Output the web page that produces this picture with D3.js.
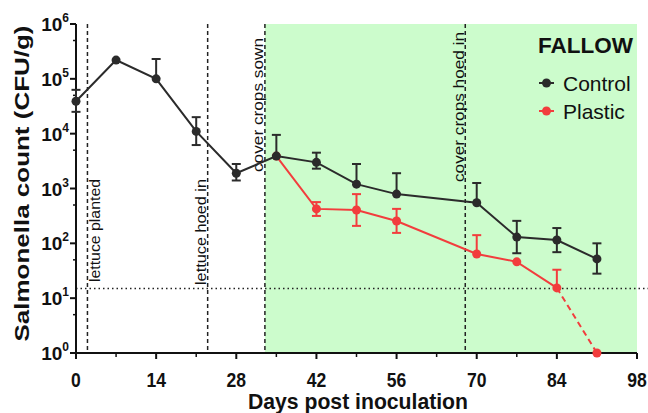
<!DOCTYPE html>
<html>
<head>
<meta charset="utf-8">
<script src="https://cdn.jsdelivr.net/npm/d3@7"></script>
<style>
  html, body { margin: 0; padding: 0; background: #fff; }
  svg { display: block; }
</style>
</head>
<body>
<div id="chart"></div>
<script>
// ── Data ──────────────────────────────────────────────────────────────────
const days         = [0, 7, 14, 21, 28, 35, 42, 49, 56, 70, 77, 84, 91];
const controlMean  = [3.9e4, 2.2e5, 1.0e5, 1.1e4, 1.9e3, 3.9e3, 3.0e3, 1.2e3, 790, 550, 130, 115, 52];
const controlUpper = [6.3e4, null, 2.3e5, 2.0e4, 2.8e3, 9.5e3, 4.5e3, 2.8e3, 1.9e3, 1.26e3, 257, 190, 100];
const controlLower = [2.5e4, null, null, 6.2e3, 1.4e3, null, 2.3e3, null, null, null, 66, 69, 28];

const plasticDays  = [35, 42, 49, 56, 70, 77, 84, 91];
const plasticMean  = [3.9e3, 425, 405, 255, 64, 46, 15.4, 1];
const plasticUpper = [null, 565, 790, 425, 141, null, 33, null];
const plasticLower = [null, 316, 208, 155, null, null, null, null];

const xTicks      = [0, 14, 28, 42, 56, 70, 84, 98];
const xMinorTicks = [7, 21, 35, 49, 63, 77, 91];
const yExponents  = [0, 1, 2, 3, 4, 5, 6];

const detectionLimit = 15;
const fallowStart = 33, fallowEnd = 98;
const events = [
  { day: 2,  label: "lettuce planted",     side: "right", len: 103 },
  { day: 23, label: "lettuce hoed in",     side: "left",  len: 106 },
  { day: 33, label: "cover crops sown",    side: "left",  len: 134 },
  { day: 68, label: "cover crops hoed in", side: "left",  len: 150 },
];

const CONTROL = "#2b2b2b", PLASTIC = "#f23d3d", FALLOW_FILL = "#ccfccc";

// ── Layout ────────────────────────────────────────────────────────────────
const totalW = 648, totalH = 413;
const margin = { top: 24, right: 11, bottom: 60, left: 76 };
const W = totalW - margin.left - margin.right;
const H = totalH - margin.top - margin.bottom;

const svg = d3.select("#chart").append("svg")
  .attr("width", totalW).attr("height", totalH)
  .attr("font-family", "'Liberation Sans', Arial, sans-serif");

const g = svg.append("g").attr("transform", `translate(${margin.left},${margin.top})`);

const x = d3.scaleLinear().domain([0, 98]).range([0, W]);
const y = d3.scaleLog().domain([1, 1e6]).range([H, 0]);

// fallow period shading
g.append("rect")
  .attr("x", x(fallowStart)).attr("y", y(1e6))
  .attr("width", x(fallowEnd) - x(fallowStart))
  .attr("height", y(1) - y(1e6))
  .attr("fill", FALLOW_FILL);

// detection limit
g.append("line")
  .attr("x1", 0).attr("x2", W + margin.right)
  .attr("y1", y(detectionLimit)).attr("y2", y(detectionLimit))
  .attr("stroke", "#222").attr("stroke-width", 1.5)
  .attr("stroke-dasharray", "1.5,3");

// event lines + labels
events.forEach(function (e) {
  const ex = x(e.day);
  g.append("line")
    .attr("x1", ex).attr("x2", ex)
    .attr("y1", y(1e6)).attr("y2", y(1))
    .attr("stroke", "#222").attr("stroke-width", 1.5)
    .attr("stroke-dasharray", "4,3");
});

const labelBottom = { "lettuce planted": 258, "lettuce hoed in": 261, "cover crops sown": 148, "cover crops hoed in": 158 };
events.forEach(function (e) {
  const bx = e.side === "right" ? x(e.day) + 13 : x(e.day) - 1.5;
  const by = labelBottom[e.label];
  g.append("text")
    .attr("transform", `translate(${bx},${by}) rotate(-90)`)
    .attr("font-size", 14.5)
    .attr("fill", "#111")
    .attr("textLength", e.len)
    .attr("lengthAdjust", "spacingAndGlyphs")
    .text(e.label);
});

// ── Axes ──────────────────────────────────────────────────────────────────
const axisColor = "#111";
// x axis
g.append("line").attr("x1", 0).attr("x2", W).attr("y1", H).attr("y2", H)
  .attr("stroke", axisColor).attr("stroke-width", 2);
xTicks.forEach(function (t) {
  g.append("line").attr("x1", x(t)).attr("x2", x(t)).attr("y1", H).attr("y2", H + 6)
    .attr("stroke", axisColor).attr("stroke-width", 2);
  g.append("text")
    .attr("transform", `translate(${x(t)},${H + 34}) scale(0.9,1)`)
    .attr("text-anchor", "middle").attr("font-size", 19.5).attr("font-weight", "bold")
    .attr("fill", "#111").text(t);
});
xMinorTicks.forEach(function (t) {
  g.append("line").attr("x1", x(t)).attr("x2", x(t)).attr("y1", H).attr("y2", H + 4)
    .attr("stroke", axisColor).attr("stroke-width", 1.5);
});

// y axis
g.append("line").attr("x1", 0).attr("x2", 0).attr("y1", 0).attr("y2", H)
  .attr("stroke", axisColor).attr("stroke-width", 2);
yExponents.forEach(function (p) {
  const yy = y(Math.pow(10, p));
  g.append("line").attr("x1", -6).attr("x2", 0).attr("y1", yy).attr("y2", yy)
    .attr("stroke", axisColor).attr("stroke-width", 2);
  const t = g.append("text").attr("x", -7).attr("y", yy + 7)
    .attr("text-anchor", "end").attr("font-weight", "bold").attr("fill", "#111");
  t.append("tspan").attr("font-size", 19).text("10");
  t.append("tspan").attr("font-size", 12).attr("dy", -9).text(p);
  if (p > 0) {
    const ym = y(5 * Math.pow(10, p - 1));
    g.append("line").attr("x1", -3).attr("x2", 0).attr("y1", ym).attr("y2", ym)
      .attr("stroke", axisColor).attr("stroke-width", 1.5);
  }
});

// axis titles
svg.append("text")
  .attr("transform", `translate(29,${margin.top + H / 2 - 5}) rotate(-90)`)
  .attr("text-anchor", "middle").attr("font-size", 21).attr("font-weight", "bold")
  .attr("fill", "#111")
  .attr("textLength", 316).attr("lengthAdjust", "spacingAndGlyphs")
  .text("Salmonella count (CFU/g)");

svg.append("text")
  .attr("x", 358).attr("y", 409)
  .attr("text-anchor", "middle").attr("font-size", 22).attr("font-weight", "bold")
  .attr("fill", "#111")
  .attr("textLength", 220).attr("lengthAdjust", "spacingAndGlyphs")
  .text("Days post inoculation");

// ── Series ────────────────────────────────────────────────────────────────
function drawSeries(dx, mean, upper, lower, color, dashLast) {
  const pts = dx.map((d, i) => ({ d: d, v: mean[i], u: upper[i], l: lower[i] }));
  const line = d3.line().x(p => x(p.d)).y(p => y(p.v));
  const solid = dashLast ? pts.slice(0, -1) : pts;
  g.append("path").datum(solid).attr("d", line)
    .attr("fill", "none").attr("stroke", color).attr("stroke-width", 2);
  if (dashLast) {
    g.append("path").datum(pts.slice(-2)).attr("d", line)
      .attr("fill", "none").attr("stroke", color).attr("stroke-width", 2)
      .attr("stroke-dasharray", "6,4");
  }
  pts.forEach(function (p) {
    const cx = x(p.d);
    [p.u, p.l].forEach(function (b) {
      if (b == null) return;
      g.append("line").attr("x1", cx).attr("x2", cx).attr("y1", y(p.v)).attr("y2", y(b))
        .attr("stroke", color).attr("stroke-width", 2);
      g.append("line").attr("x1", cx - 4.5).attr("x2", cx + 4.5).attr("y1", y(b)).attr("y2", y(b))
        .attr("stroke", color).attr("stroke-width", 2);
    });
  });
  g.selectAll(null).data(pts).enter().append("circle")
    .attr("cx", p => x(p.d)).attr("cy", p => y(p.v)).attr("r", 4.5)
    .attr("fill", color);
}

drawSeries(plasticDays, plasticMean, plasticUpper, plasticLower, PLASTIC, true);
drawSeries(days, controlMean, controlUpper, controlLower, CONTROL, false);

// ── Legend ────────────────────────────────────────────────────────────────
svg.append("text").attr("x", 538).attr("y", 53)
  .attr("font-size", 22).attr("font-weight", "bold").attr("fill", "#111")
  .attr("textLength", 95).attr("lengthAdjust", "spacingAndGlyphs")
  .text("FALLOW");
[{ name: "Control", color: CONTROL, yy: 83 }, { name: "Plastic", color: PLASTIC, yy: 111 }]
  .forEach(function (s) {
    svg.append("line").attr("x1", 539).attr("x2", 554).attr("y1", s.yy).attr("y2", s.yy)
      .attr("stroke", s.color).attr("stroke-width", 2);
    svg.append("circle").attr("cx", 546.5).attr("cy", s.yy).attr("r", 4.5).attr("fill", s.color);
    svg.append("text").attr("x", 563).attr("y", s.yy + 8)
      .attr("font-size", 21).attr("fill", "#111").text(s.name);
  });
</script>
</body>
</html>
